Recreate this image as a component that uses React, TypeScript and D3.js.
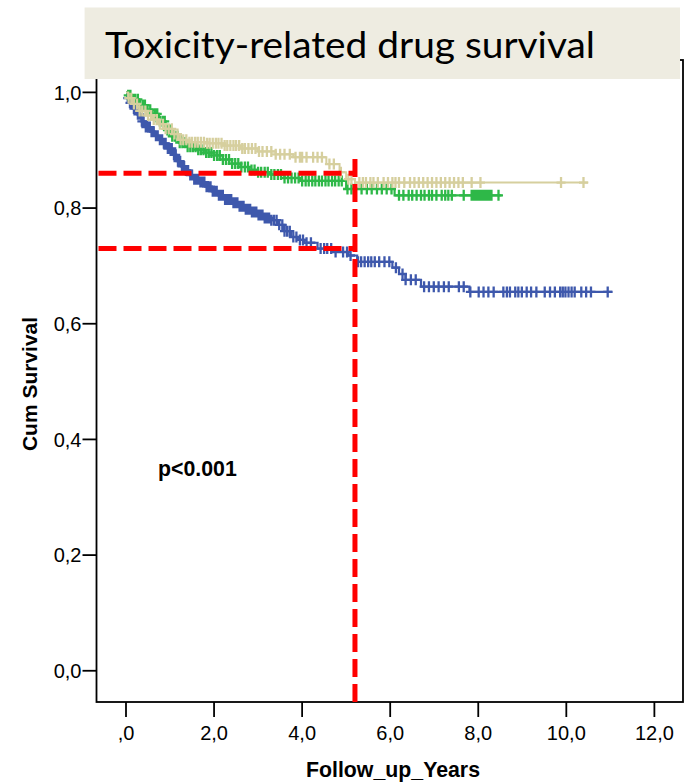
import React from "react";
import * as d3 from "d3";

const xTicks = [0, 2, 4, 6, 8, 10, 12];
const xTickLabels = [",0", "2,0", "4,0", "6,0", "8,0", "10,0", "12,0"];
const yTicks = [0, 0.2, 0.4, 0.6, 0.8, 1.0];
const yTickLabels = ["0,0", "0,2", "0,4", "0,6", "0,8", "1,0"];

// Blue group (KM steps)
const blueTimes = [0, 0.03, 0.08, 0.15, 0.25, 0.35, 0.45, 0.55, 0.65, 0.75, 0.85, 0.95, 1.05, 1.15, 1.25, 1.35, 1.45, 1.55, 1.65, 1.8, 1.95, 2.1, 2.25, 2.4, 2.55, 2.7, 2.85, 3.0, 3.15, 3.3, 3.45, 3.6, 3.75, 3.9, 4.05, 4.35, 4.75, 5.05, 5.25, 6.05, 6.2, 6.35, 6.7, 7.8];
const blueSurv = [1.0, 0.99, 0.982, 0.972, 0.962, 0.95, 0.94, 0.932, 0.925, 0.918, 0.912, 0.903, 0.892, 0.881, 0.872, 0.865, 0.857, 0.85, 0.845, 0.837, 0.829, 0.822, 0.815, 0.809, 0.803, 0.798, 0.793, 0.788, 0.783, 0.779, 0.771, 0.76, 0.75, 0.745, 0.74, 0.73, 0.724, 0.718, 0.707, 0.697, 0.686, 0.676, 0.664, 0.655];
const blueEnd = 11.05;
const blueCensor = [0.04, 0.09, 0.13, 0.18, 0.22, 0.27, 0.31, 0.36, 0.4, 0.45, 0.5, 0.54, 0.58, 0.63, 0.68, 0.72, 0.77, 0.82, 0.86, 0.9, 0.95, 1.0, 1.04, 1.09, 1.13, 1.18, 1.23, 1.27, 1.32, 1.36, 1.41, 1.46, 1.5, 1.55, 1.6, 1.64, 1.69, 1.73, 1.78, 1.83, 1.88, 1.92, 1.97, 2.02, 2.06, 2.11, 2.16, 2.2, 2.25, 2.3, 2.34, 2.39, 2.44, 2.48, 2.53, 2.58, 2.63, 2.67, 2.72, 2.77, 2.82, 2.86, 2.91, 2.96, 3.01, 3.05, 3.1, 3.15, 3.2, 3.25, 3.3, 3.36, 3.42, 3.48, 3.55, 3.6, 3.66, 3.72, 3.8, 3.87, 3.95, 4.02, 4.1, 4.2, 4.42, 4.5, 4.57, 4.66, 4.76, 4.93, 5.02, 5.1, 5.27, 5.34, 5.42, 5.5, 5.57, 5.65, 5.75, 5.87, 5.98, 6.13, 6.28, 6.35, 6.47, 6.58, 6.77, 6.88, 6.99, 7.1, 7.22, 7.33, 7.56, 7.67, 7.82, 8.01, 8.12, 8.23, 8.35, 8.57, 8.65, 8.72, 8.84, 8.91, 8.99, 9.1, 9.2, 9.32, 9.51, 9.63, 9.74, 9.86, 9.92, 9.98, 10.05, 10.12, 10.19, 10.34, 10.45, 10.56, 10.94];

// Green group
const greenTimes = [0, 0.05, 0.15, 0.3, 0.45, 0.6, 0.75, 0.9, 1.05, 1.2, 1.4, 1.6, 1.8, 2.0, 2.2, 2.4, 2.6, 2.8, 3.0, 3.3, 3.6, 3.95, 5.0, 6.1];
const greenSurv = [1.0, 0.995, 0.988, 0.978, 0.97, 0.963, 0.95, 0.935, 0.924, 0.913, 0.906, 0.901, 0.896, 0.891, 0.884, 0.877, 0.871, 0.866, 0.862, 0.858, 0.852, 0.847, 0.833, 0.822];
const greenEnd = 8.53;
const greenCensor = [0.05, 0.1, 0.16, 0.21, 0.27, 0.32, 0.38, 0.43, 0.49, 0.55, 0.6, 0.66, 0.71, 0.77, 0.83, 0.88, 0.94, 1.0, 1.05, 1.11, 1.17, 1.22, 1.28, 1.34, 1.4, 1.46, 1.52, 1.58, 1.64, 1.7, 1.76, 1.82, 1.88, 1.94, 2.0, 2.07, 2.13, 2.2, 2.27, 2.34, 2.41, 2.48, 2.55, 2.62, 2.7, 2.77, 2.85, 2.92, 3.0, 3.07, 3.15, 3.22, 3.3, 3.37, 3.45, 3.52, 3.6, 3.68, 3.76, 3.84, 3.92, 4.0, 4.08, 4.15, 4.23, 4.3, 4.38, 4.45, 4.53, 4.6, 4.68, 4.75, 4.83, 4.9, 5.03, 5.12, 5.2, 5.35, 5.47, 5.58, 5.7, 5.81, 5.92, 6.03, 6.2, 6.3, 6.42, 6.5, 6.6, 6.7, 6.78, 6.88, 6.95, 7.05, 7.17, 7.25, 7.32, 7.4, 7.67, 7.85, 7.9, 7.95, 8.0, 8.04, 8.08, 8.12, 8.16, 8.2, 8.25, 8.3, 8.46];

// Tan group
const tanTimes = [0, 0.05, 0.15, 0.3, 0.45, 0.6, 0.75, 0.9, 1.05, 1.2, 1.4, 1.8, 2.2, 2.6, 3.0, 3.4, 3.8, 4.55, 4.85, 5.0, 5.2];
const tanSurv = [1.0, 0.99, 0.98, 0.968, 0.96, 0.953, 0.945, 0.937, 0.928, 0.918, 0.914, 0.912, 0.908, 0.903, 0.898, 0.893, 0.888, 0.876, 0.862, 0.85, 0.844];
const tanEnd = 10.5;
const tanCensor = [0.06, 0.12, 0.18, 0.25, 0.31, 0.37, 0.44, 0.5, 0.57, 0.63, 0.7, 0.77, 0.84, 0.9, 0.97, 1.04, 1.1, 1.17, 1.24, 1.3, 1.37, 1.44, 1.5, 1.57, 1.63, 1.7, 1.77, 1.84, 1.9, 1.97, 2.04, 2.1, 2.17, 2.24, 2.3, 2.37, 2.44, 2.5, 2.57, 2.64, 2.7, 2.78, 2.86, 2.94, 3.02, 3.1, 3.2, 3.3, 3.4, 3.5, 3.6, 3.72, 3.85, 3.95, 4.0, 4.1, 4.25, 4.35, 4.45, 4.62, 4.72, 4.88, 5.05, 5.12, 5.3, 5.38, 5.45, 5.55, 5.62, 5.72, 5.85, 5.95, 6.05, 6.12, 6.2, 6.32, 6.45, 6.55, 6.65, 6.75, 6.85, 6.95, 7.05, 7.15, 7.25, 7.35, 7.45, 7.55, 7.65, 7.85, 8.05, 9.88, 10.39];

const refTime = 5.2;
const refLevels = [0.86, 0.73];
const refTop = 0.885;

const W = 685;
const H = 783;
const plotLeft = 96.5;
const plotRight = 683;
const plotTop = 60;
const plotBottom = 702;

const x = d3.scaleLinear().domain([-0.67, 12.65]).range([plotLeft, plotRight]);
const y = d3.scaleLinear().domain([-0.054, 1.056]).range([plotBottom, plotTop]);

type Series = { times: number[]; surv: number[]; end: number; censor: number[]; color: string; width: number };

const series: Series[] = [
  { times: blueTimes, surv: blueSurv, end: blueEnd, censor: blueCensor, color: "#3E58AC", width: 2.2 },
  { times: greenTimes, surv: greenSurv, end: greenEnd, censor: greenCensor, color: "#2EB848", width: 2.2 },
  { times: tanTimes, surv: tanSurv, end: tanEnd, censor: tanCensor, color: "#D6CF9E", width: 2 },
];

function survAt(s: Series, t: number) {
  const i = d3.bisectRight(s.times, t) - 1;
  return s.surv[Math.max(0, i)];
}

const line = d3
  .line<[number, number]>()
  .x((d) => x(d[0]))
  .y((d) => y(d[1]))
  .curve(d3.curveStepAfter);

export default function App() {
  const font = "'Liberation Sans', Arial, sans-serif";
  return (
    <svg width={W} height={H} style={{ position: "absolute", left: 0, top: 0, background: "#fff" }} xmlns="http://www.w3.org/2000/svg">
      <rect x={0} y={0} width={W} height={H} fill="#fff" />
      {/* frame */}
      <rect x={plotLeft} y={plotTop} width={plotRight - plotLeft} height={plotBottom - plotTop} fill="none" stroke="#000" strokeWidth={1.8} />
      {/* curves */}
      {series.map((s, k) => {
        const pts: [number, number][] = s.times.map((t, i) => [t, s.surv[i]] as [number, number]);
        pts.push([s.end, s.surv[s.surv.length - 1]]);
        const marks = s.censor
          .map((t) => {
            const cx = x(t);
            const cy = y(survAt(s, t));
            return `M${cx - 4.5},${cy}H${cx + 4.5}M${cx},${cy - 5.5}V${cy + 5.5}`;
          })
          .join("");
        return (
          <g key={k}>
            <path d={line(pts) || ""} fill="none" stroke={s.color} strokeWidth={s.width} />
            <path d={marks} fill="none" stroke={s.color} strokeWidth={2.3} />
          </g>
        );
      })}
      {/* red reference lines */}
      {refLevels.map((v, i) => (
        <line key={i} x1={plotLeft + 2} x2={x(refTime)} y1={y(v)} y2={y(v)} stroke="#FF0000" strokeWidth={5} strokeDasharray="18,7" />
      ))}
      <line x1={x(refTime)} x2={x(refTime)} y1={y(refTop)} y2={plotBottom} stroke="#FF0000" strokeWidth={5} strokeDasharray="18,7" />
      {/* y axis ticks */}
      {yTicks.map((v, i) => (
        <g key={i}>
          <line x1={plotLeft - 14} x2={plotLeft} y1={y(v)} y2={y(v)} stroke="#000" strokeWidth={1.8} />
          <text x={plotLeft - 15} y={y(v) + 7.2} textAnchor="end" fontFamily={font} fontSize={20} fill="#000">
            {yTickLabels[i]}
          </text>
        </g>
      ))}
      {/* x axis ticks */}
      {xTicks.map((v, i) => (
        <g key={i}>
          <line x1={x(v)} x2={x(v)} y1={plotBottom} y2={plotBottom + 15} stroke="#000" strokeWidth={1.8} />
          <text x={x(v)} y={740} textAnchor="middle" fontFamily={font} fontSize={20} fill="#000">
            {xTickLabels[i]}
          </text>
        </g>
      ))}
      <text x={393} y={777} textAnchor="middle" fontFamily={font} fontSize={21.3} fontWeight="bold" fill="#000">
        Follow_up_Years
      </text>
      <text transform={`translate(37,384) rotate(-90)`} textAnchor="middle" fontFamily={font} fontSize={21} fontWeight="bold" fill="#000">
        Cum Survival
      </text>
      <text x={158} y={476} fontFamily={font} fontSize={21.3} fontWeight="bold" fill="#000">
        p&lt;0.001
      </text>
      {/* title box */}
      <rect x={84.6} y={7.5} width={680 - 84.6} height={71.5} fill="#EEECE1" />
      <text x={105} y={58} fontFamily="Lato, 'Open Sans', sans-serif" fontSize={37} fill="#000" textLength={490} lengthAdjust="spacingAndGlyphs">
        Toxicity-related drug survival
      </text>
    </svg>
  );
}
